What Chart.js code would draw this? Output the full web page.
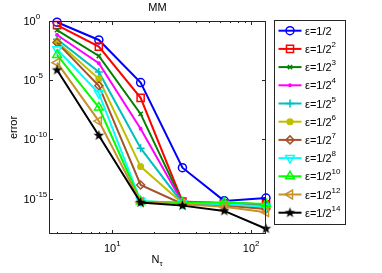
<!DOCTYPE html>
<html>
<head>
<meta charset="utf-8">
<script src="https://cdn.jsdelivr.net/npm/chart.js@4/dist/chart.umd.min.js"></script>
<style>
  html, body { margin: 0; padding: 0; background: #fff; }
</style>
</head>
<body>
<canvas id="errChart" width="382" height="273"></canvas>
<script>
// values
const nTau = [4, 8, 16, 32, 64, 128];
const epsExp = [1, 2, 3, 4, 5, 6, 7, 8, 10, 12, 14];
const err1 = [7.9e-1, 2.5e-2, 6.3e-6, 4.0e-13, 6.3e-16, 1.1e-15];
const err2 = [4.5e-1, 6.8e-3, 3.2e-7, 5.6e-16, 4.0e-16, 3.2e-16];
const err3 = [1.7e-1, 1.1e-3, 1.4e-8, 5.0e-16, 4.0e-16, 3.2e-16];
const err4 = [6.6e-2, 2.7e-4, 7.9e-10, 4.5e-16, 3.5e-16, 2.5e-16];
const err5 = [2.9e-2, 5.0e-5, 1.8e-11, 4.0e-16, 3.2e-16, 1.6e-16];
const err6 = [1.8e-2, 1.3e-5, 5.0e-13, 4.0e-16, 2.8e-16, 1.4e-16];
const err7 = [1.5e-2, 3.4e-6, 1.4e-14, 3.5e-16, 2.5e-16, 1.3e-16];
const err8 = [4.1e-3, 7.9e-7, 6.3e-16, 4.0e-16, 3.5e-16, 2.0e-16];
const err10 = [1.35e-3, 5.0e-8, 5.6e-16, 4.5e-16, 4.5e-16, 3.5e-16];
const err12 = [3.0e-4, 3.5e-9, 5.0e-16, 3.2e-16, 2.0e-16, 7.0e-17];
const err14 = [7.2e-5, 2.1e-10, 4.5e-16, 2.5e-16, 8.9e-17, 2.8e-18];
const yTicks = [1e-15, 1e-10, 1e-5, 1e0];
const xTicks = [10, 100];
const xMinorTicks = [4, 5, 6, 7, 8, 9, 20, 30, 40, 50, 60, 70, 80, 90];

const FONT = '"Liberation Sans", Arial, sans-serif';

// filled pentagram for the last series (MATLAB 'p')
function makeStar(r, color) {
  const c = document.createElement("canvas");
  const s = Math.ceil(r * 2 + 2);
  c.width = s; c.height = s;
  const g = c.getContext("2d");
  g.fillStyle = color;
  g.beginPath();
  for (let k = 0; k < 10; k++) {
    const rr = k % 2 ? r * 0.42 : r;
    const ang = -Math.PI / 2 + k * Math.PI / 5;
    g.lineTo(s / 2 + rr * Math.cos(ang), s / 2 + rr * Math.sin(ang));
  }
  g.closePath();
  g.fill();
  return c;
}

const series = [
  { data: err1, color: "#0000ff", style: "circle", r: 4, filled: false },
  { data: err2, color: "#ff0000", style: "rect", r: 5, filled: false },
  { data: err3, color: "#008000", style: "crossRot", r: 3, filled: false },
  { data: err4, color: "#ff00ff", style: "circle", r: 1.2, filled: true },
  { data: err5, color: "#00bfbf", style: "cross", r: 4, filled: false },
  { data: err6, color: "#bfbf00", style: "circle", r: 2.8, filled: true },
  { data: err7, color: "#a5522a", style: "rectRot", r: 4, filled: false },
  { data: err8, color: "#00ffff", style: "triangle", r: 5, rot: 180, filled: false },
  { data: err10, color: "#00ff00", style: "triangle", r: 5, filled: false },
  { data: err12, color: "#c8922a", style: "triangle", r: 5, rot: 270, filled: false },
  { data: err14, color: "#000000", style: makeStar(5.5, "#000000"), r: 5.5, filled: true },
];

function drawPow10(ctx, exp, x, y, align) {
  ctx.font = "11px " + FONT;
  const wb = ctx.measureText("10").width;
  ctx.font = "8px " + FONT;
  const we = ctx.measureText(String(exp)).width;
  let x0 = x;
  if (align === "center") x0 = x - (wb + we) / 2;
  ctx.textAlign = "left";
  ctx.textBaseline = "alphabetic";
  ctx.font = "11px " + FONT;
  ctx.fillText("10", x0, y);
  ctx.font = "8px " + FONT;
  ctx.fillText(String(exp), x0 + wb, y - 6);
}

const overlay = {
  id: "overlay",
  afterDraw(chart) {
    const { ctx, chartArea: a } = chart;
    const xs = chart.scales.x, ys = chart.scales.y;
    ctx.save();
    ctx.strokeStyle = "#262626";
    ctx.lineWidth = 1;
    ctx.strokeRect(a.left + 0.5, a.top + 0.5, a.right - a.left - 1, a.bottom - a.top - 1);

    ctx.beginPath();
    yTicks.forEach(v => {
      const p = Math.round(ys.getPixelForValue(v)) + 0.5;
      ctx.moveTo(a.left, p); ctx.lineTo(a.left + 4, p);
      ctx.moveTo(a.right, p); ctx.lineTo(a.right - 4, p);
    });
    xTicks.forEach(v => {
      const p = Math.round(xs.getPixelForValue(v)) + 0.5;
      ctx.moveTo(p, a.bottom); ctx.lineTo(p, a.bottom - 4);
      ctx.moveTo(p, a.top); ctx.lineTo(p, a.top + 4);
    });
    xMinorTicks.forEach(v => {
      const p = Math.round(xs.getPixelForValue(v)) + 0.5;
      ctx.moveTo(p, a.bottom); ctx.lineTo(p, a.bottom - 2);
      ctx.moveTo(p, a.top); ctx.lineTo(p, a.top + 2);
    });
    ctx.stroke();

    ctx.fillStyle = "#000";
    yTicks.forEach(v => {
      const p = ys.getPixelForValue(v);
      drawPow10(ctx, Math.round(Math.log10(v)), a.left - 25.5, p + 4, "left");
    });
    xTicks.forEach(v => {
      const p = xs.getPixelForValue(v);
      drawPow10(ctx, Math.round(Math.log10(v)), p, a.bottom + 18, "center");
    });

    // title
    const cx = (a.left + a.right) / 2;
    ctx.font = "11px " + FONT;
    ctx.textAlign = "center";
    ctx.fillText("MM", cx, 11);

    // x label N_tau
    const wN = ctx.measureText("N").width;
    ctx.textAlign = "left";
    ctx.fillText("N", cx - wN / 2 - 2, 263);
    ctx.font = "8px " + FONT;
    ctx.fillText("\u03c4", cx + wN / 2 - 2, 266);

    // y label
    ctx.save();
    ctx.translate(17, (a.top + a.bottom) / 2);
    ctx.rotate(-Math.PI / 2);
    ctx.font = "11px " + FONT;
    ctx.textAlign = "center";
    ctx.fillText("error", 0, 0);
    ctx.restore();

    // legend
    const lx = 274, ly = 20, lw = 71, lh = 204;
    ctx.fillStyle = "#fff";
    ctx.fillRect(lx, ly, lw, lh);
    ctx.strokeStyle = "#262626";
    ctx.lineWidth = 1;
    ctx.strokeRect(lx + 0.5, ly + 0.5, lw, lh);
    series.forEach((s, i) => {
      const cy = ly + 10.7 + i * 18.2;
      ctx.strokeStyle = s.color;
      ctx.lineWidth = 2;
      ctx.beginPath();
      ctx.moveTo(lx + 4.5, cy); ctx.lineTo(lx + 27.5, cy);
      ctx.stroke();
      ctx.lineWidth = 1.5;
      ctx.fillStyle = s.filled ? s.color : "rgba(0,0,0,0)";
      if (Chart.helpers && Chart.helpers.drawPoint) {
        Chart.helpers.drawPoint(ctx, { pointStyle: s.style, radius: s.r, rotation: s.rot || 0, borderWidth: 1.5 }, lx + 16, cy);
      }
      ctx.fillStyle = "#000";
      ctx.textAlign = "left";
      ctx.font = "11px " + FONT;
      const t = "\u03b5=1/2";
      ctx.fillText(t, lx + 31, cy + 4);
      if (epsExp[i] !== 1) {
        const w = ctx.measureText(t).width;
        ctx.font = "8px " + FONT;
        ctx.fillText(String(epsExp[i]), lx + 31 + w, cy - 2);
      }
    });
    ctx.restore();
  }
};

const ctx = document.getElementById("errChart").getContext("2d");

new Chart(ctx, {
  type: "line",
  data: {
    datasets: series.map((s, i) => ({
      label: "\u03b5=1/2^" + epsExp[i],
      data: nTau.map((n, k) => ({ x: n, y: s.data[k] })),
      borderColor: s.color,
      backgroundColor: s.filled ? s.color : "rgba(0,0,0,0)",
      borderWidth: 2,
      pointStyle: s.style,
      pointRadius: s.r,
      pointRotation: s.rot || 0,
      pointBorderWidth: 1.5,
      pointBorderColor: s.color,
      pointBackgroundColor: s.filled ? s.color : "rgba(0,0,0,0)",
      tension: 0,
      clip: false,
      order: -i
    }))
  },
  options: {
    responsive: false,
    animation: false,
    events: [],
    layout: { padding: { left: 49, right: 116, top: 21, bottom: 39 } },
    plugins: {
      legend: { display: false },
      title: { display: false },
      tooltip: { enabled: false }
    },
    scales: {
      x: { type: "logarithmic", display: false, min: 3.5, max: 128 },
      y: { type: "logarithmic", display: false, min: 1e-18, max: 1 }
    }
  },
  plugins: [overlay]
});
</script>
</body>
</html>
